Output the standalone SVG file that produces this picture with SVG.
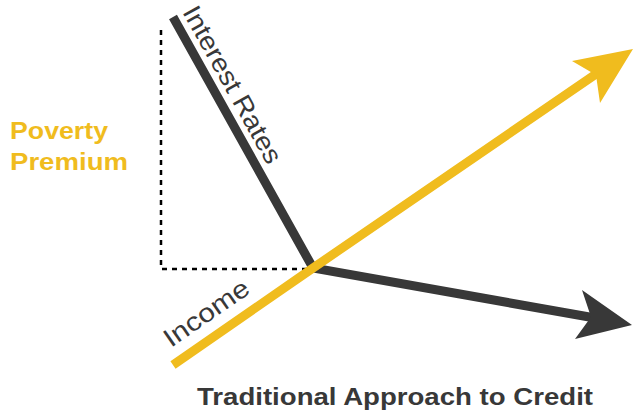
<svg xmlns="http://www.w3.org/2000/svg" width="633" height="418" viewBox="0 0 633 418">
<style>
.dark{stroke:#383838;stroke-width:9;fill:none}
.yel{stroke:#F0BC1E;stroke-width:9;fill:none}
.lbl{font-family:"Liberation Sans",Arial,sans-serif;font-size:26px;fill:#383838;font-weight:300}
.pp{font-family:"Liberation Sans",Arial,sans-serif;font-size:24px;font-weight:bold;fill:#F0BC1E}
.title{font-family:"Liberation Sans",Arial,sans-serif;font-size:23px;font-weight:bold;fill:#383838}
</style>
<rect width="633" height="418" fill="#fff"/>
<g id="connectors">
<path d="M161,30 V269 H313" stroke="#000" stroke-width="2.5" fill="none" stroke-dasharray="5,5"/>
<path class="dark" d="M173,17 L313,268 L595,318"/>
<polygon points="632,325 582,290 591,317 575,339" fill="#383838"/>
<path class="yel" d="M173,365 L313,268 L596,74"/>
<polygon points="633,49 572,61 596,75 600,103" fill="#F0BC1E"/>
</g>
<g id="interest-rates">
<text class="lbl" transform="translate(182,12) rotate(60.9)" textLength="176" lengthAdjust="spacingAndGlyphs">Interest Rates</text>
</g>
<g id="income">
<text class="lbl" transform="translate(171,348) rotate(-34.7)" textLength="98" lengthAdjust="spacingAndGlyphs">Income</text>
</g>
<g id="poverty-premium">
<text class="pp" x="10" y="139" textLength="98" lengthAdjust="spacingAndGlyphs">Poverty</text>
<text class="pp" x="10" y="170" textLength="118" lengthAdjust="spacingAndGlyphs">Premium</text>
</g>
<g id="title">
<text class="title" x="197" y="405" textLength="396" lengthAdjust="spacingAndGlyphs">Traditional Approach to Credit</text>
</g>
</svg>
